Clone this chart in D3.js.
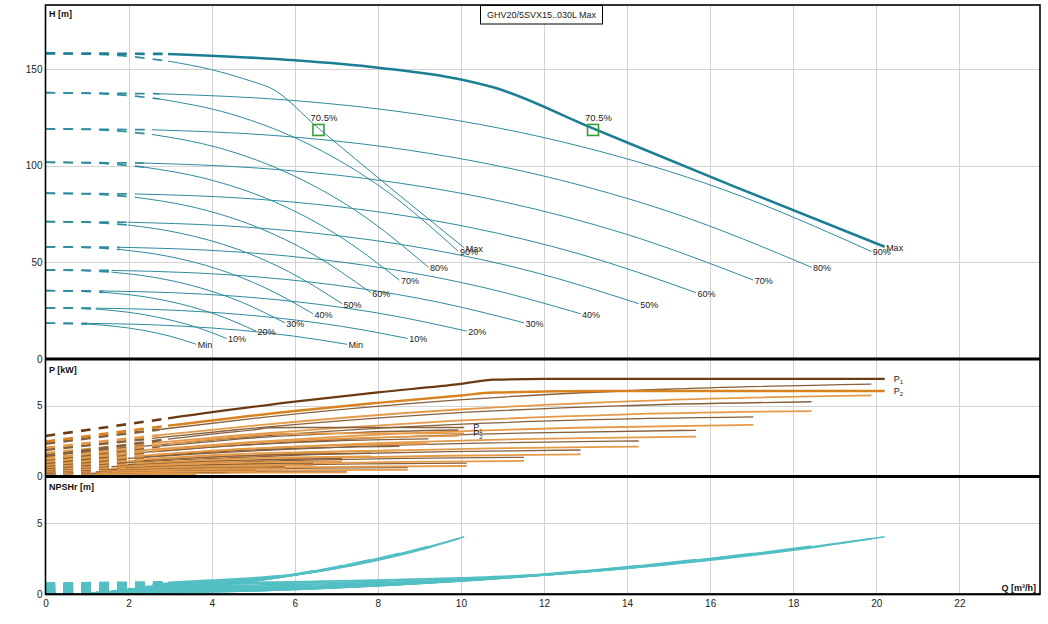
<!DOCTYPE html>
<html>
<head>
<meta charset="utf-8">
<script src="https://cdn.jsdelivr.net/npm/d3@7/dist/d3.min.js"></script>
<style>
  body { margin: 0; background: #fff; }
  text { font-family: "Liberation Sans", Arial, sans-serif; }
</style>
</head>
<body>
<div id="container"></div>
<script>
/* CONSTANTS AND GLOBALS */
const width = 1048,
  height = 624,
  left = 45.5,
  right = 1040;

/* DATA */
const qTicks = [0, 2, 4, 6, 8, 10, 12, 14, 16, 18, 20, 22];
const hTicks = [0, 50, 100, 150];
const pTicks = [0, 5];
const nTicks = [0, 5];
const title = "GHV20/5SVX15..030L Max";
const speedLabels = ["Max", "90%", "80%", "70%", "60%", "50%", "40%", "30%", "20%", "10%", "Min"];
// Q where the dashed (below minimum flow) part stops
const dashEnd = [2.95, 2.75, 2.56, 2.37, 2.17, 1.98, 1.79, 1.59, 1.40, 1.21, 1.01];

// head, one pump running [Q, H]
const headOne = [
  [[0,158],[1.48,157.3],[2.95,154.0],[4.03,149.4],[5.0,143.3],[5.4,140.3],[6.57,119.3],[8.3,88.5],[10.08,57.5]],
  [[0,137.7],[1.38,137.1],[2.75,134.4],[4.47,126.6],[6.46,109.7],[8.15,87.7],[9.94,55.6]],
  [[0,119],[1.28,118.5],[2.56,116.1],[4.15,109.3],[5.99,94.6],[7.56,75.4],[9.22,47.4]],
  [[0,101.7],[1.18,101.3],[2.37,99.2],[3.83,93.4],[5.54,81.0],[6.99,64.6],[8.52,40.8]],
  [[0,85.7],[1.08,85.3],[2.17,83.6],[3.52,78.7],[5.09,68.2],[6.42,54.4],[7.83,34.3]],
  [[0,71],[0.99,70.7],[1.98,69.3],[3.21,65.2],[4.64,56.6],[5.85,45.2],[7.14,28.6]],
  [[0,58],[0.9,57.75],[1.79,56.6],[2.9,53.3],[4.19,46.2],[5.28,36.9],[6.44,23.4]],
  [[0,46],[0.8,45.8],[1.59,44.9],[2.59,42.3],[3.74,36.7],[4.72,29.4],[5.76,18.7]],
  [[0,35.3],[0.7,35.15],[1.4,34.45],[2.28,32.5],[3.3,28.2],[4.16,22.6],[5.07,14.4]],
  [[0,26.4],[0.6,26.3],[1.21,25.8],[1.96,24.25],[2.83,21.0],[3.58,16.8],[4.36,10.6]],
  [[0,18.5],[0.5,18.4],[1.01,18.06],[1.63,17.0],[2.36,14.8],[2.98,11.9],[3.63,7.6]]
];

// head, two pumps running [Q, H]
const headTwo = [
  [[0,158],[2.95,157.7],[6,154.4],[8,150.6],[10,144.5],[10.8,140.3],[13.18,119.2],[16.6,89],[20.2,58]],
  [[0,137.7],[2.75,137.1],[5.96,133.65],[8.95,126.6],[12.92,109.7],[16.3,87.7],[19.88,55.6]],
  [[0,119],[2.56,118.5],[5.53,115.5],[8.3,109.3],[11.99,94.6],[15.12,75.4],[18.44,47.4]],
  [[0,101.7],[2.37,101.3],[5.11,98.7],[7.67,93.4],[11.08,81.0],[13.97,64.6],[17.04,40.8]],
  [[0,85.7],[2.17,85.3],[4.7,83.2],[7.05,78.7],[10.18,68.2],[12.84,54.4],[15.66,34.3]],
  [[0,71],[1.98,70.7],[4.28,68.9],[6.43,65.2],[9.28,56.6],[11.71,45.2],[14.28,28.6]],
  [[0,58],[1.79,57.75],[3.86,56.3],[5.8,53.3],[8.37,46.2],[10.56,36.9],[12.88,23.4]],
  [[0,46],[1.59,45.8],[3.46,44.65],[5.18,42.3],[7.49,36.7],[9.45,29.4],[11.52,18.7]],
  [[0,35.3],[1.4,35.15],[3.04,34.3],[4.56,32.5],[6.59,28.2],[8.31,22.6],[10.14,14.4]],
  [[0,26.4],[1.21,26.3],[2.62,25.6],[3.92,24.25],[5.67,21.0],[7.15,16.8],[8.72,10.6]],
  [[0,18.5],[1.01,18.4],[2.18,17.96],[3.27,17.0],[4.72,14.8],[5.95,11.9],[7.26,7.6]]
];

// power P1, two pumps [Q, kW]
const powerTwoP1 = [
  [[0,2.85],[2.95,4.1],[6,5.29],[8,5.95],[10,6.55],[10.8,6.85],[12,6.9],[20.2,6.9]],
  [[0,2.3],[2.75,3.31],[4.97,4.08],[9.94,5.41],[14.91,6.17],[19.88,6.54]],
  [[0,1.86],[2.56,2.67],[4.61,3.29],[9.22,4.37],[13.83,4.99],[18.44,5.28]],
  [[0,1.48],[2.37,2.13],[4.26,2.62],[8.52,3.48],[12.78,3.97],[17.04,4.2]],
  [[0,1.14],[2.17,1.64],[3.92,2.03],[7.83,2.69],[11.75,3.07],[15.66,3.25]],
  [[0,0.87],[1.98,1.26],[3.57,1.55],[7.14,2.06],[10.71,2.35],[14.28,2.49]],
  [[0,0.65],[1.79,0.93],[3.22,1.15],[6.44,1.53],[9.66,1.74],[12.88,1.85]],
  [[0,0.47],[1.59,0.67],[2.88,0.83],[5.76,1.1],[8.64,1.25],[11.52,1.33]],
  [[0,0.32],[1.4,0.46],[2.54,0.57],[5.07,0.75],[7.61,0.86],[10.14,0.91]],
  [[0,0.21],[1.21,0.3],[2.18,0.37],[4.36,0.49],[6.54,0.56],[8.72,0.59]],
  [[0,0.125],[1.01,0.18],[1.82,0.22],[3.63,0.29],[5.45,0.34],[7.26,0.36]]
];

// power P2, two pumps [Q, kW]
const powerTwoP2 = [
  [[0,2.45],[2.95,3.58],[6,4.63],[8,5.2],[10,5.73],[10.8,5.93],[13.5,6.05],[20.2,6.05]],
  [[0,2.01],[2.75,2.9],[4.97,3.57],[9.94,4.73],[14.91,5.4],[19.88,5.74]],
  [[0,1.63],[2.56,2.34],[4.61,2.88],[9.22,3.82],[13.83,4.37],[18.44,4.62]],
  [[0,1.28],[2.37,1.84],[4.26,2.27],[8.52,3.01],[12.78,3.43],[17.04,3.63]],
  [[0,0.98],[2.17,1.41],[3.92,1.75],[7.83,2.31],[11.75,2.64],[15.66,2.8]],
  [[0,0.73],[1.98,1.06],[3.57,1.3],[7.14,1.73],[10.71,1.97],[14.28,2.09]],
  [[0,0.54],[1.79,0.77],[3.22,0.95],[6.44,1.27],[9.66,1.44],[12.88,1.54]],
  [[0,0.38],[1.59,0.54],[2.88,0.66],[5.76,0.88],[8.64,1.0],[11.52,1.07]],
  [[0,0.25],[1.4,0.36],[2.54,0.44],[5.07,0.59],[7.61,0.67],[10.14,0.71]],
  [[0,0.16],[1.21,0.23],[2.18,0.28],[4.36,0.37],[6.54,0.42],[8.72,0.44]],
  [[0,0.09],[1.01,0.13],[1.82,0.16],[3.63,0.21],[5.45,0.24],[7.26,0.26]]
];

// power P1, one pump [Q, kW]
const powerOneP1 = [
  [[0,1.425],[2.95,2.62],[4,2.975],[5,3.28],[5.4,3.43],[6,3.45],[10.08,3.45]],
  [[0,1.15],[2.75,2.12],[4.97,2.7],[7.46,3.09],[9.94,3.27]],
  [[0,0.93],[2.56,1.71],[4.61,2.18],[6.92,2.49],[9.22,2.64]],
  [[0,0.74],[2.37,1.36],[4.26,1.74],[6.39,1.99],[8.52,2.1]],
  [[0,0.57],[2.17,1.05],[3.92,1.34],[5.87,1.53],[7.83,1.62]],
  [[0,0.44],[1.98,0.81],[3.57,1.03],[5.36,1.17],[7.14,1.24]],
  [[0,0.32],[1.79,0.6],[3.22,0.76],[4.83,0.87],[6.44,0.92]],
  [[0,0.23],[1.59,0.43],[2.88,0.55],[4.32,0.63],[5.76,0.66]],
  [[0,0.16],[1.4,0.29],[2.54,0.38],[3.8,0.43],[5.07,0.45]],
  [[0,0.1],[1.21,0.19],[2.18,0.24],[3.27,0.28],[4.36,0.3]],
  [[0,0.06],[1.01,0.12],[1.82,0.15],[2.72,0.17],[3.63,0.18]]
];

// power P2, one pump [Q, kW]
const powerOneP2 = [
  [[0,1.22],[2.95,2.29],[4,2.6],[5,2.87],[5.4,2.98],[6.75,3.03],[10.08,3.03]],
  [[0,1.01],[2.75,1.86],[4.97,2.36],[7.46,2.7],[9.94,2.86]],
  [[0,0.81],[2.56,1.5],[4.61,1.91],[6.92,2.18],[9.22,2.31]],
  [[0,0.64],[2.37,1.18],[4.26,1.51],[6.39,1.72],[8.52,1.82]],
  [[0,0.49],[2.17,0.9],[3.92,1.15],[5.87,1.32],[7.83,1.39]],
  [[0,0.37],[1.98,0.68],[3.57,0.87],[5.36,0.98],[7.14,1.04]],
  [[0,0.27],[1.79,0.5],[3.22,0.63],[4.83,0.72],[6.44,0.76]],
  [[0,0.18],[1.59,0.34],[2.88,0.44],[4.32,0.5],[5.76,0.53]],
  [[0,0.12],[1.4,0.23],[2.54,0.3],[3.8,0.34],[5.07,0.35]],
  [[0,0.08],[1.21,0.14],[2.18,0.18],[3.27,0.21],[4.36,0.23]],
  [[0,0.04],[1.01,0.09],[1.82,0.11],[2.72,0.12],[3.63,0.13]]
];

// NPSHr, one pump [Q, m]
const npshOne = [
  [[0,0.75],[2.95,0.85],[4,1.0],[5,1.17],[6,1.4],[7,1.82],[8,2.4],[9,3.1],[10.08,4.05]],
  [[0,0.65],[2.75,0.74],[3.98,0.91],[5.96,1.35],[7.95,2.4],[9.94,3.92]],
  [[0,0.56],[2.56,0.64],[3.69,0.78],[5.53,1.17],[7.38,2.07],[9.22,3.39]],
  [[0,0.48],[2.37,0.55],[3.41,0.67],[5.11,1.0],[6.82,1.77],[8.52,2.89]],
  [[0,0.41],[2.17,0.46],[3.13,0.56],[4.7,0.84],[6.26,1.49],[7.83,2.44]],
  [[0,0.34],[1.98,0.38],[2.86,0.47],[4.28,0.7],[5.71,1.24],[7.14,2.03]],
  [[0,0.27],[1.79,0.31],[2.58,0.38],[3.86,0.57],[5.15,1.01],[6.44,1.65]],
  [[0,0.22],[1.59,0.25],[2.3,0.3],[3.46,0.45],[4.61,0.8],[5.76,1.31]],
  [[0,0.17],[1.4,0.19],[2.03,0.23],[3.04,0.35],[4.06,0.62],[5.07,1.01]],
  [[0,0.13],[1.21,0.14],[1.74,0.17],[2.62,0.26],[3.49,0.46],[4.36,0.75]],
  [[0,0.09],[1.01,0.1],[1.45,0.12],[2.18,0.18],[2.9,0.32],[3.63,0.53]]
];

// NPSHr, two pumps [Q, m]
const npshTwo = [
  [[0,0.75],[2.95,0.78],[8,1.0],[10,1.17],[12,1.4],[14,1.82],[16,2.4],[18,3.1],[20.2,4.05]],
  [[0,0.65],[2.75,0.68],[7.95,0.91],[11.93,1.35],[15.9,2.4],[19.88,3.92]],
  [[0,0.56],[2.56,0.59],[7.38,0.78],[11.06,1.17],[14.75,2.07],[18.44,3.39]],
  [[0,0.48],[2.37,0.5],[6.82,0.67],[10.22,1.0],[13.63,1.77],[17.04,2.89]],
  [[0,0.41],[2.17,0.42],[6.26,0.56],[9.4,0.84],[12.53,1.49],[15.66,2.44]],
  [[0,0.34],[1.98,0.35],[5.71,0.47],[8.57,0.7],[11.42,1.24],[14.28,2.03]],
  [[0,0.27],[1.79,0.29],[5.15,0.38],[7.73,0.57],[10.3,1.01],[12.88,1.65]],
  [[0,0.22],[1.59,0.23],[4.61,0.3],[6.91,0.45],[9.22,0.8],[11.52,1.31]],
  [[0,0.17],[1.4,0.17],[4.06,0.23],[6.08,0.35],[8.11,0.62],[10.14,1.01]],
  [[0,0.13],[1.21,0.13],[3.49,0.17],[5.23,0.26],[6.98,0.46],[8.72,0.75]],
  [[0,0.09],[1.01,0.09],[2.9,0.12],[4.36,0.18],[5.81,0.32],[7.26,0.53]]
];

// best efficiency markers
const bepQ = [6.57, 13.18];
const bepH = [118.4, 118.4];
const bepLabel = "70.5%";

/* SCALES */
const xScale = d3.scaleLinear().domain([0, 23.94]).range([left, right]);
const yHead = d3.scaleLinear().domain([0, 183]).range([359, 5]);
const yPower = d3.scaleLinear().domain([0, 8.32]).range([476, 359]);
const yNpsh = d3.scaleLinear().domain([0, 8.28]).range([594.3, 476.7]);

const svg = d3.select("#container")
  .append("svg")
  .attr("width", width)
  .attr("height", height);

// grid
const panels = [
  { y: yHead, ticks: hTicks },
  { y: yPower, ticks: pTicks },
  { y: yNpsh, ticks: nTicks }
];
const grid = svg.append("g").attr("stroke", "#d3d3d3").attr("stroke-width", 1);
panels.forEach(p => {
  const [y0, y1] = p.y.range();
  grid.selectAll(null)
    .data(qTicks.filter(d => d > 0))
    .join("line")
    .attr("x1", d => Math.round(xScale(d)) + 0.5)
    .attr("x2", d => Math.round(xScale(d)) + 0.5)
    .attr("y1", y1)
    .attr("y2", y0);
  grid.selectAll(null)
    .data(p.ticks.filter(d => d > 0))
    .join("line")
    .attr("x1", left)
    .attr("x2", right)
    .attr("y1", d => Math.round(p.y(d)) + 0.5)
    .attr("y2", d => Math.round(p.y(d)) + 0.5);
});

/* CURVES */
function lineFor(y) {
  return d3.line()
    .x(d => xScale(d[0]))
    .y(d => y(d[1]))
    .curve(d3.curveMonotoneX);
}

function drawCurve(g, pts, qs, y, color, w, dashW) {
  const dashed = pts.filter(d => d[0] <= qs + 1e-6);
  const solid = pts.filter(d => d[0] >= qs - 1e-6);
  g.append("path")
    .attr("d", lineFor(y)(dashed))
    .attr("fill", "none")
    .attr("stroke", color)
    .attr("stroke-width", dashW)
    .attr("stroke-dasharray", "9.7,8.2");
  g.append("path")
    .attr("d", lineFor(y)(solid))
    .attr("fill", "none")
    .attr("stroke", color)
    .attr("stroke-width", w);
}

// NPSH panel
const gN = svg.append("g");
d3.range(10, -1, -1).forEach(i => {
  drawCurve(gN, npshOne[i], dashEnd[i], yNpsh, "#52bfc4", 1.6, 2.6);
  drawCurve(gN, npshTwo[i], dashEnd[i], yNpsh, "#52bfc4", 1.6, 2.6);
});

// power panel
const gP = svg.append("g");
d3.range(10, -1, -1).forEach(i => {
  const max = i === 0;
  drawCurve(gP, powerOneP2[i], dashEnd[i], yPower, "#e49a48", 1.8, 2.6);
  drawCurve(gP, powerOneP1[i], dashEnd[i], yPower, "#86603c", 1.3, 2.6);
  drawCurve(gP, powerTwoP2[i], dashEnd[i], yPower, max ? "#d8831f" : "#e49a48", max ? 2.5 : 1.8, 2.6);
  drawCurve(gP, powerTwoP1[i], dashEnd[i], yPower, max ? "#6b3a10" : "#86603c", max ? 2.2 : 1.3, 2.6);
});

// head panel
const gH = svg.append("g");
d3.range(10, -1, -1).forEach(i => {
  const max = i === 0;
  drawCurve(gH, headOne[i], dashEnd[i], yHead, "#2d8b9d", 1, 1.7);
  drawCurve(gH, headTwo[i], dashEnd[i], yHead, max ? "#1c7e95" : "#2d8b9d", max ? 2.6 : 1, max ? 2.6 : 1.7);
});

// speed labels at curve ends
const labels = svg.append("g")
  .attr("font-size", 9)
  .attr("fill", "#222");
[headOne, headTwo].forEach(set => {
  labels.selectAll(null)
    .data(set)
    .join("text")
    .attr("x", d => xScale(d[d.length - 1][0]) + 1.5)
    .attr("y", d => yHead(d[d.length - 1][1]) + 4)
    .text((d, i) => speedLabels[i]);
});

// P1 / P2 labels
[[powerOneP1[0], "1"], [powerOneP2[0], "2"], [powerTwoP1[0], "1"], [powerTwoP2[0], "2"]].forEach(([pts, sub]) => {
  const end = pts[pts.length - 1];
  const t = labels.append("text")
    .attr("x", xScale(end[0]) + 9)
    .attr("y", yPower(end[1]) + 3);
  t.append("tspan").text("P");
  t.append("tspan").attr("font-size", 6).attr("dy", 2.5).text(sub);
});

// best efficiency markers
const bep = svg.append("g");
bep.selectAll("rect")
  .data(bepQ)
  .join("rect")
  .attr("x", d => xScale(d) - 5.5)
  .attr("y", (d, i) => yHead(bepH[i]) - 5.5)
  .attr("width", 11)
  .attr("height", 11)
  .attr("fill", "none")
  .attr("stroke", "#2fa035")
  .attr("stroke-width", 1.6);
bep.selectAll("text")
  .data(bepQ)
  .join("text")
  .attr("x", d => xScale(d) - 8)
  .attr("y", (d, i) => yHead(bepH[i]) - 9)
  .attr("font-size", 9.5)
  .attr("fill", "#222")
  .text(bepLabel);

/* FRAME */
const frame = svg.append("g").attr("stroke", "#000").attr("fill", "none");
frame.append("rect")
  .attr("x", left)
  .attr("y", 5)
  .attr("width", right - left)
  .attr("height", 594.3 - 5)
  .attr("stroke-width", 1.6);
frame.append("line").attr("x1", left).attr("x2", right)
  .attr("y1", 359).attr("y2", 359).attr("stroke-width", 3);
frame.append("line").attr("x1", left).attr("x2", right)
  .attr("y1", 476.4).attr("y2", 476.4).attr("stroke-width", 3);
frame.append("line").attr("x1", left).attr("x2", right)
  .attr("y1", 594.3).attr("y2", 594.3).attr("stroke-width", 2);

/* AXES */
function styleAxis(g) {
  g.select(".domain").remove();
  g.selectAll("text")
    .attr("font-size", 10)
    .attr("fill", "#222")
    .attr("font-family", "Liberation Sans, Arial, sans-serif");
}
svg.append("g")
  .attr("transform", `translate(${left - 1},0)`)
  .call(d3.axisLeft(yHead).tickValues(hTicks).tickSize(0).tickPadding(2))
  .call(styleAxis);
svg.append("g")
  .attr("transform", `translate(${left - 1},0)`)
  .call(d3.axisLeft(yPower).tickValues(pTicks).tickSize(0).tickPadding(2))
  .call(styleAxis);
svg.append("g")
  .attr("transform", `translate(${left - 1},0)`)
  .call(d3.axisLeft(yNpsh).tickValues(nTicks).tickSize(0).tickPadding(2))
  .call(styleAxis);
svg.append("g")
  .attr("transform", `translate(0,594.3)`)
  .call(d3.axisBottom(xScale).tickValues(qTicks).tickSize(0).tickPadding(6))
  .call(styleAxis);

// axis titles
const titles = svg.append("g")
  .attr("font-size", 9)
  .attr("font-weight", "bold")
  .attr("fill", "#111");
titles.append("text").attr("x", 49).attr("y", 16.5).text("H [m]");
titles.append("text").attr("x", 49).attr("y", 373).text("P [kW]");
titles.append("text").attr("x", 49).attr("y", 490).text("NPSHr [m]");
titles.append("text").attr("x", 1036).attr("y", 591)
  .attr("text-anchor", "end").text("Q [m³/h]");

// title box
const tb = svg.append("g");
tb.append("rect")
  .attr("x", 480.5)
  .attr("y", 5.5)
  .attr("width", 122)
  .attr("height", 18.5)
  .attr("fill", "#fff")
  .attr("stroke", "#000")
  .attr("stroke-width", 1);
tb.append("text")
  .attr("x", 541.5)
  .attr("y", 18)
  .attr("text-anchor", "middle")
  .attr("font-size", 9)
  .attr("fill", "#222")
  .text(title);
</script>
</body>
</html>
